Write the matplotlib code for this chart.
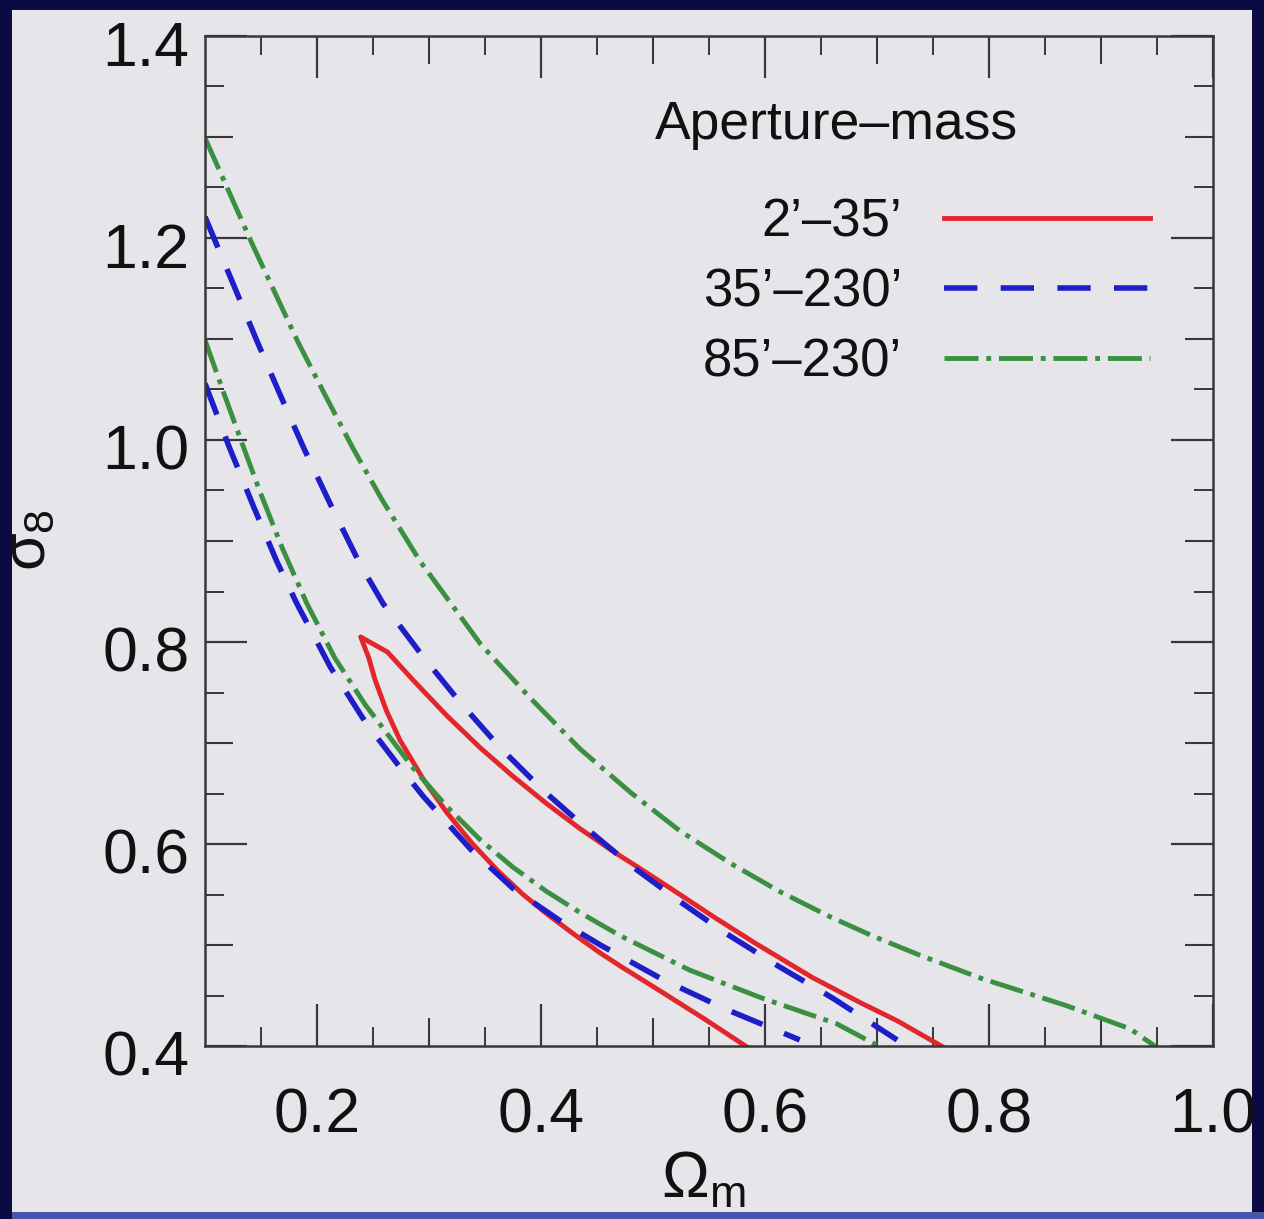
import numpy as np
import matplotlib
matplotlib.use('Agg')
import matplotlib.pyplot as plt
from matplotlib.patches import Rectangle
from matplotlib.ticker import FixedLocator
from matplotlib.transforms import ScaledTranslation

plt.rcParams['font.family'] = ['Liberation Sans', 'DejaVu Sans']
plt.rcParams['mathtext.fontset'] = 'custom'
plt.rcParams['mathtext.rm'] = 'Liberation Sans'
plt.rcParams['mathtext.it'] = 'Liberation Sans'

# contour 2'-35' (одна замкнутая кривая, обрезанная осью снизу)
red_x = [0.584, 0.547, 0.510, 0.471, 0.453, 0.429, 0.405, 0.384, 0.361, 0.339,
         0.316, 0.295, 0.274, 0.262, 0.252, 0.246, 0.239,
         0.263, 0.286, 0.316, 0.346, 0.375, 0.405, 0.435, 0.464, 0.495,
         0.524, 0.554, 0.591, 0.642, 0.685, 0.718, 0.759]
red_y = [0.399, 0.426, 0.452, 0.479, 0.492, 0.511, 0.531, 0.550, 0.574, 0.600,
         0.631, 0.664, 0.703, 0.732, 0.762, 0.785, 0.805,
         0.790, 0.762, 0.727, 0.695, 0.667, 0.640, 0.615, 0.593, 0.571,
         0.550, 0.528, 0.502, 0.468, 0.443, 0.425, 0.399]

# 35'-230'
blue_up_x = [0.100, 0.125, 0.146, 0.167, 0.189, 0.213, 0.238, 0.259, 0.295, 0.328,
             0.363, 0.402, 0.441, 0.480, 0.524, 0.563, 0.612, 0.661, 0.718]
blue_up_y = [1.221, 1.155, 1.099, 1.045, 0.990, 0.934, 0.878, 0.838, 0.785, 0.740,
             0.696, 0.653, 0.615, 0.579, 0.543, 0.513, 0.479, 0.447, 0.406]
blue_lo_x = [0.100, 0.122, 0.143, 0.164, 0.182, 0.212, 0.243, 0.274, 0.295, 0.337,
             0.375, 0.417, 0.453, 0.510, 0.566, 0.631]
blue_lo_y = [1.056, 0.992, 0.935, 0.880, 0.838, 0.775, 0.721, 0.676, 0.647, 0.595,
             0.556, 0.524, 0.500, 0.465, 0.436, 0.406]

# 85'-230'
green_up_x = [0.100, 0.143, 0.183, 0.207, 0.232, 0.258, 0.292, 0.346, 0.390, 0.435,
              0.480, 0.524, 0.569, 0.613, 0.658, 0.696, 0.738, 0.793, 0.869, 0.926, 0.948]
green_up_y = [1.299, 1.192, 1.097, 1.045, 0.992, 0.941, 0.880, 0.798, 0.745, 0.694,
              0.651, 0.613, 0.581, 0.553, 0.528, 0.509, 0.490, 0.467, 0.440, 0.417, 0.400]
green_lo_x = [0.100, 0.115, 0.131, 0.149, 0.169, 0.191, 0.216, 0.243, 0.286, 0.316,
              0.346, 0.375, 0.405, 0.435, 0.471, 0.533, 0.596, 0.664, 0.703]
green_lo_y = [1.099, 1.052, 1.003, 0.949, 0.893, 0.838, 0.784, 0.738, 0.675, 0.637,
              0.604, 0.577, 0.553, 0.532, 0.509, 0.475, 0.448, 0.422, 0.399]

labels = ["2\u2019\u201335\u2019", "35\u2019\u2013230\u2019", "85\u2019\u2013230\u2019"]
x_ticks = [0.2, 0.4, 0.6, 0.8, 1.0]
y_ticks = [0.4, 0.6, 0.8, 1.0, 1.2, 1.4]

W, H = 1264, 1219
fig = plt.figure(figsize=(W / 100, H / 100), dpi=100)
fig.patch.set_facecolor('#0a0a45')
fig.patches.append(Rectangle((12 / W, 7 / H), 1240 / W, 1202 / H, transform=fig.transFigure,
                             facecolor='#e6e6ea', edgecolor='none', zorder=-10))
fig.patches.append(Rectangle((12 / W, 0), 1252 / W, 7 / H, transform=fig.transFigure,
                             facecolor='#4856a8', edgecolor='none', zorder=-10))

ax = fig.add_axes([205 / W, 1 - 1046 / H, 1008 / W, 1010 / H])
ax.set_facecolor('none')

red = '#e3262b'
blue = '#1e1ec8'
green = '#3a9040'
dash = (0, (6, 4.2))
dashdot = (0, (7, 1.6, 1, 1.6))
ax.plot(red_x, red_y, color=red, lw=3.5, solid_joinstyle='round', label=labels[0])
ax.plot(blue_up_x, blue_up_y, color=blue, lw=4.0, ls=dash, label=labels[1])
ax.plot(blue_lo_x, blue_lo_y, color=blue, lw=4.0, ls=dash)
ax.plot(green_up_x, green_up_y, color=green, lw=3.5, ls=dashdot, label=labels[2])
ax.plot(green_lo_x, green_lo_y, color=green, lw=3.5, ls=dashdot)

ax.set_xlim(0.1, 1.0)
ax.set_ylim(0.4, 1.4)

for sp in ax.spines.values():
    sp.set_linewidth(1.8)
    sp.set_color('#383838')

ax.xaxis.set_major_locator(FixedLocator(x_ticks))
ax.yaxis.set_major_locator(FixedLocator(y_ticks))
ax.set_xticklabels(['%.1f' % v for v in x_ticks])
ax.set_yticklabels(['%.1f' % v for v in y_ticks])
ax.xaxis.set_minor_locator(FixedLocator(np.arange(0.15, 1.0, 0.1)))
ax.yaxis.set_minor_locator(FixedLocator(np.arange(0.45, 1.4, 0.1)))
ax.tick_params(which='both', direction='in', top=True, right=True, color='#383838')
ax.tick_params(which='major', length=30, width=1.6, labelsize=45, labelcolor='#111111')
ax.tick_params(which='minor', length=13.5, width=1.4)
ax.tick_params(axis='x', which='major', pad=29)
ax.tick_params(axis='y', which='major', pad=11)

# средние засечки на 0.1
mid_x = [0.3, 0.5, 0.7, 0.9]
mid_y = [0.5, 0.7, 0.9, 1.1, 1.3]
for loc in ['top', 'bottom']:
    sec = ax.secondary_xaxis(loc)
    sec.set_xticks(mid_x)
    sec.set_xticklabels([])
    sec.tick_params(direction='in', length=20, width=1.5, color='#383838')
    sec.spines[loc].set_visible(False)
for loc in ['left', 'right']:
    sec = ax.secondary_yaxis(loc)
    sec.set_yticks(mid_y)
    sec.set_yticklabels([])
    sec.tick_params(direction='in', length=20, width=1.5, color='#383838')
    sec.spines[loc].set_visible(False)

# подписи по y чуть ниже засечек, как в оригинале
shift = ScaledTranslation(0, -0.07, fig.dpi_scale_trans)
for lab in ax.get_yticklabels():
    lab.set_transform(lab.get_transform() + shift)

ax.text(0.446, 0.912, 'Aperture\u2013mass', transform=ax.transAxes, fontsize=38.5,
        ha='left', va='center', color='#111111')
leg = ax.legend(loc='upper right', bbox_to_anchor=(0.9375, 0.840), frameon=False,
                markerfirst=False, fontsize=38, handlelength=3.9, handletextpad=0.8,
                labelspacing=0.38, borderaxespad=0, borderpad=0)
for t in leg.get_texts():
    t.set_color('#111111')

fig.text(0.0, 1 - 540 / H, r'$\sigma_8$', fontsize=44, rotation=90,
         ha='left', va='center', color='#111111')
fig.text(661 / W, 1 - 1198 / H, r'$\Omega_{\rm m}$', fontsize=46,
         ha='left', va='baseline', color='#111111')

fig.savefig('out.png', dpi=100, facecolor=fig.get_facecolor())
